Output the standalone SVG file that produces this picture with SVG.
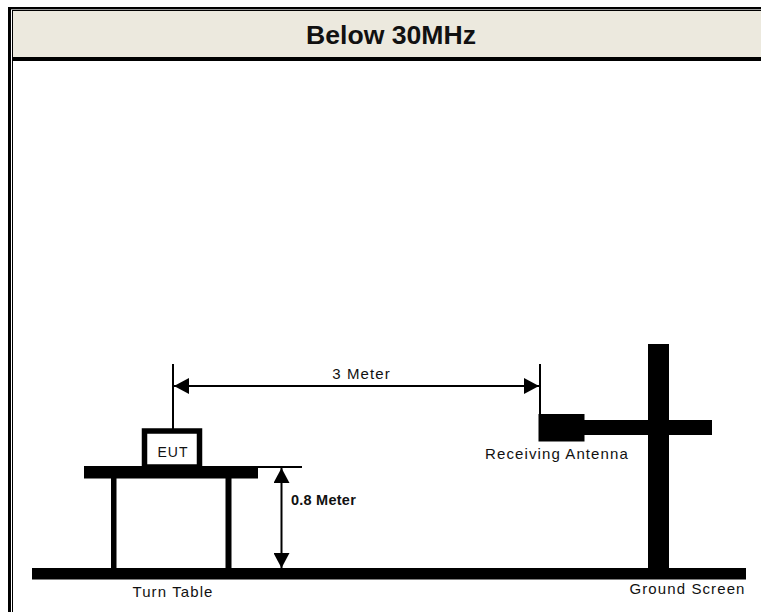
<svg xmlns="http://www.w3.org/2000/svg" width="761" height="612" viewBox="0 0 761 612">
<style>
.k{fill:#000}
.t{font-family:"Liberation Sans",Arial,sans-serif;font-size:15px;fill:#111;letter-spacing:1.1px;text-anchor:middle}
.b{font-weight:bold;letter-spacing:0}
.l{stroke:#000;stroke-width:2;fill:none}
</style>
<defs>
<marker id="a" markerUnits="userSpaceOnUse" markerWidth="16" markerHeight="16" refX="15" refY="8" orient="auto-start-reverse"><path d="M0 0L15 8L0 16Z" class="k"/></marker>
</defs>
<rect width="761" height="612" fill="#fff"/>
<g id="frame">
<rect x="8" y="7" width="753" height="2.4" class="k"/>
<rect x="8" y="7" width="3" height="605" class="k"/>
<rect x="12" y="10" width="749" height="1" class="k"/>
<rect x="12" y="10" width="1" height="602" class="k"/>
<rect x="13" y="11" width="748" height="46" fill="#ece9de"/>
<rect x="13" y="57" width="748" height="4" class="k"/>
<text x="391" y="44" class="t b" style="font-size:26.6px">Below 30MHz</text>
</g>
<g id="connectors">
<path class="l" d="M173 364V429M540 364V414M258 467H302"/>
<path class="l" d="M174 386H539" marker-start="url(#a)" marker-end="url(#a)"/>
<path class="l" stroke-width="2.5" d="M281.5 468V568" marker-start="url(#a)" marker-end="url(#a)"/>
</g>
<g id="eut">
<rect x="144.5" y="431" width="55" height="36" fill="#fff" stroke="#000" stroke-width="5.5"/>
<text x="173" y="457" class="t" style="font-size:14px;letter-spacing:1px">EUT</text>
</g>
<g id="turn-table">
<rect x="84" y="466" width="174" height="12.5" class="k"/>
<rect x="111" y="478" width="5.5" height="91" class="k"/>
<rect x="225.5" y="478" width="6" height="91" class="k"/>
<text x="173" y="597" class="t">Turn Table</text>
</g>
<g id="height-label"><text x="323.5" y="505" class="t b" style="font-size:14.5px;letter-spacing:.25px">0.8 Meter</text></g>
<g id="distance-label"><text x="361.5" y="379" class="t">3 Meter</text></g>
<g id="ground-screen">
<rect x="32" y="568" width="714" height="11.5" class="k"/>
<rect x="648" y="344" width="21" height="225" class="k"/>
<rect x="584" y="420" width="128" height="15" class="k"/>
<text x="687.5" y="594" class="t">Ground Screen</text>
</g>
<g id="receiving-antenna">
<rect x="538.5" y="414" width="46" height="27.5" class="k"/>
<text x="557" y="459" class="t">Receiving Antenna</text>
</g>
</svg>
